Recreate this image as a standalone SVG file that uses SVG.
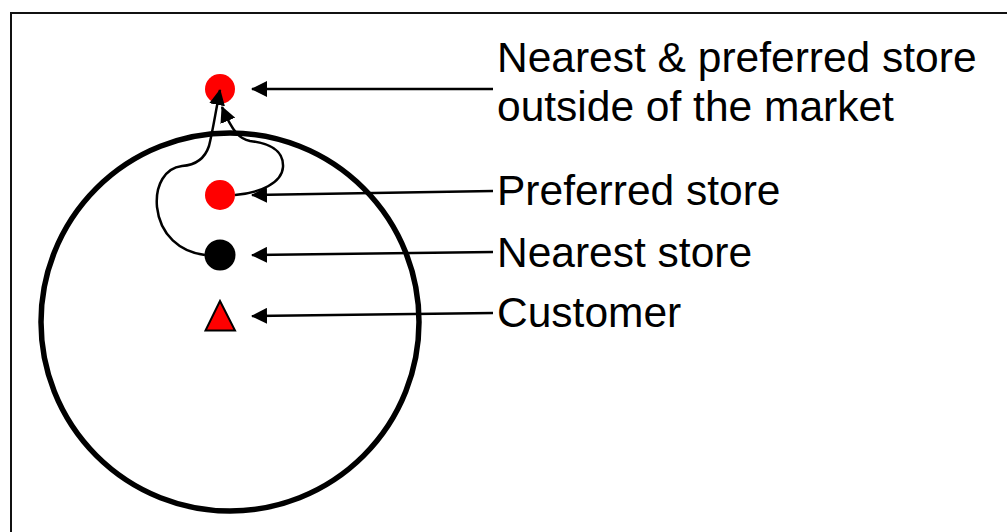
<svg xmlns="http://www.w3.org/2000/svg" width="1007" height="532" viewBox="0 0 1007 532">
<defs>
<style>
.lbl{font-family:"Liberation Sans",Arial,sans-serif;font-size:42.5px;fill:#000}
.ln{stroke:#000;stroke-width:2.5;fill:none}
</style>
<marker id="ah" markerUnits="userSpaceOnUse" markerWidth="16" markerHeight="16" viewBox="0 0 16 16" refX="15" refY="8" orient="auto">
<path d="M0,0 L16,8 L0,16 Z" fill="#000"/>
</marker>
</defs>
<rect x="0" y="0" width="1007" height="532" fill="#fff"/>
<rect x="11" y="13" width="1010" height="540" fill="none" stroke="#111" stroke-width="2"/>
<g id="market">
<circle cx="230" cy="322" r="189" fill="none" stroke="#000" stroke-width="5.5"/>
</g>
<g id="outside-store"><circle cx="220" cy="89" r="15" fill="#f00"/></g>
<g id="preferred-store"><circle cx="220" cy="195" r="15" fill="#f00"/></g>
<g id="nearest-store"><circle cx="220" cy="255" r="15.5" fill="#000"/></g>
<g id="customer"><polygon points="220,301 205.5,330.5 235,330.5" fill="#f00" stroke="#000" stroke-width="2"/></g>
<g id="connectors">
<path class="ln" d="M 205 255 C 180 252, 160 235, 157 207 C 155 185, 165 168, 182 166 C 197 165, 205 158, 209 146 C 213 130, 215 115, 220 90" marker-end="url(#ah)"/>
<path class="ln" d="M 235 195 C 260 193, 282 183, 283 167 C 284 150, 268 143, 250 141 C 240 139, 233 133, 222 107" marker-end="url(#ah)"/>
<line class="ln" x1="493" y1="89" x2="252" y2="89" marker-end="url(#ah)"/>
<line class="ln" x1="493" y1="191" x2="252" y2="195" marker-end="url(#ah)"/>
<line class="ln" x1="493" y1="252" x2="252" y2="255" marker-end="url(#ah)"/>
<line class="ln" x1="493" y1="313" x2="252" y2="316" marker-end="url(#ah)"/>
</g>
<g id="labels">
<text class="lbl" x="497" y="72">Nearest &amp; preferred store</text>
<text class="lbl" x="497" y="121">outside of the market</text>
<text class="lbl" x="497" y="205">Preferred store</text>
<text class="lbl" x="497" y="267">Nearest store</text>
<text class="lbl" x="497" y="327">Customer</text>
</g>
</svg>
